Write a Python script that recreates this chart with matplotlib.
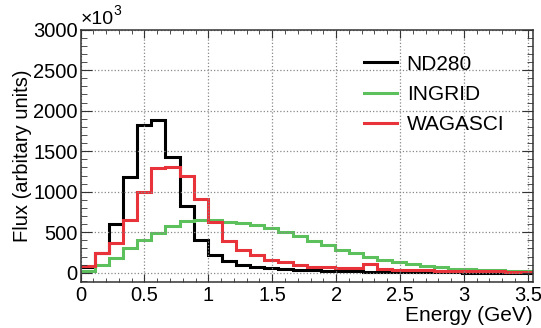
import numpy as np
import matplotlib.pyplot as plt
from matplotlib.ticker import MultipleLocator

plt.rcParams['font.family'] = ['Liberation Sans', 'DejaVu Sans']

# 32 bins from 0 to 3.54 GeV
bin_edges = np.linspace(0, 3.54, 33)

nd280 = [78, 243, 605, 1177, 1827, 1880, 1428, 830, 410, 222, 145, 100,
         78, 58, 45, 37, 30, 25, 20, 17, 14, 12, 10, 8, 7, 6, 5, 4, 4, 3, 3, 2]
ingrid = [20, 95, 185, 300, 405, 490, 575, 645, 655, 650, 625, 620,
          593, 551, 502, 448, 387, 337, 280, 243, 193, 160, 132, 107,
          86, 70, 53, 45, 38, 30, 25, 20]
wagasci = [88, 243, 367, 646, 991, 1292, 1300, 1189, 910, 626, 387, 284,
           222, 155, 138, 99, 78, 66, 60, 55, 108, 50, 40, 35, 30, 28,
           25, 22, 20, 18, 16, 15]

labels = ['ND280', 'INGRID', 'WAGASCI']
colors = ['black', '#5cc05c', '#e8333a']

fig = plt.figure(figsize=(5.41, 3.28), dpi=100)
ax = fig.add_axes([0.149, 0.141, 0.836, 0.769])

for vals, lab, col in zip([nd280, ingrid, wagasci], labels, colors):
    ax.stairs(vals, bin_edges, color=col, lw=2.2, label=lab,
              baseline=None)

ax.set_xlim(0, 3.54)
ax.set_ylim(-110, 3000)
ax.xaxis.set_minor_locator(MultipleLocator(0.1))
ax.yaxis.set_major_locator(MultipleLocator(500))
ax.yaxis.set_minor_locator(MultipleLocator(100))
ax.set_xticks([0, 0.5, 1, 1.5, 2, 2.5, 3, 3.5])
ax.set_xticklabels(['0', '0.5', '1', '1.5', '2', '2.5', '3', '3.5'])

ax.tick_params(which='both', direction='in', top=True, right=True,
               labelsize=14.5, color='#333333')
ax.tick_params(axis='x', which='major', length=6, pad=3)
ax.tick_params(axis='x', which='minor', length=3)
ax.tick_params(axis='y', which='major', length=8, pad=2)
ax.tick_params(axis='y', which='minor', length=4)
for s in ax.spines.values():
    s.set_linewidth(1.1)
    s.set_color('#333333')

ax.grid(True, which='major', linestyle=':', color='#888888', lw=0.9)

# ROOT style exponent above the y axis
ax.annotate('×10', xy=(0, 1), xycoords='axes fraction', xytext=(0, 1),
            textcoords='offset points', ha='left', va='bottom', fontsize=14)
ax.annotate('3', xy=(0, 1), xycoords='axes fraction', xytext=(23.5, 8),
            textcoords='offset points', ha='left', va='bottom', fontsize=10)

ax.set_xlabel('Energy (GeV)', loc='right', fontsize=15, labelpad=1)
ax.set_ylabel('Flux (arbitary units)', fontsize=14.5, labelpad=1)

ax.legend(loc='upper left', bbox_to_anchor=(0.585, 0.975), frameon=False,
          fontsize=15, handlelength=1.6, handletextpad=0.45,
          labelspacing=0.55)

fig.savefig('out.png', dpi=100)
